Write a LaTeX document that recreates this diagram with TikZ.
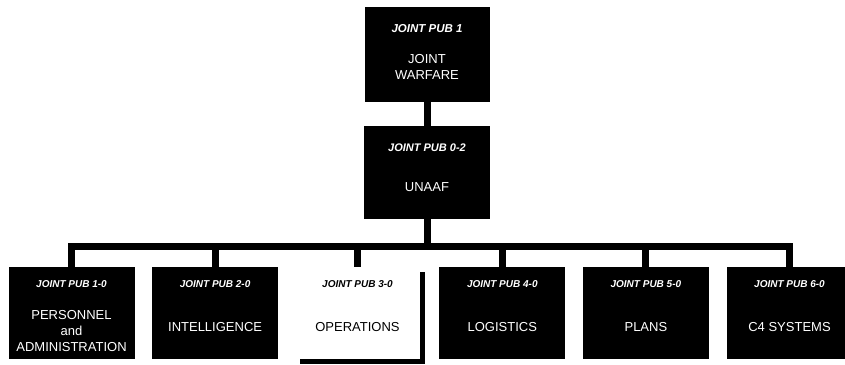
\documentclass[tikz,border=0pt]{standalone}
\usepackage{fontspec}
\setmainfont{Liberation Sans}
\usetikzlibrary{positioning, shadows}

\begin{document}
\begin{tikzpicture}[x=1pt,y=-1pt]
    \tikzset{
        pub box/.style={rectangle, fill=black, minimum width=126pt, minimum height=92pt, inner sep=0pt},
        ops box/.style={pub box, fill=white, drop shadow={shadow xshift=5pt, shadow yshift=-5pt, fill=black, opacity=1}},
        pub title/.style={text=white, font=\fontsize{10}{12}\selectfont\bfseries\itshape},
        pub name/.style={text=white, align=center, font=\fontsize{13}{16}\selectfont},
        link/.style={line width=7pt, draw=black, line join=miter}
      }
\useasboundingbox (0,0) rectangle (845,364);
% top of the chain
\node[pub box, minimum width=125pt, minimum height=95pt] (jp1) at (427,54.5) {};
\node[pub title, font=\fontsize{11.5}{13}\selectfont\bfseries\itshape] (jp1 title) at ([yshift=-22pt]jp1.north) {JOINT PUB 1};
\node[pub name] (jp1 name) at ([yshift=-12.5pt]jp1.center) {JOINT\\WARFARE};
\node[pub box, minimum height=93pt] (jp02) at (427,172.5) {};
\node[pub title, font=\fontsize{11}{13}\selectfont\bfseries\itshape] (jp02 title) at ([yshift=-22pt]jp02.north) {JOINT PUB 0-2};
\node[pub name] (jp02 name) at ([yshift=-14.5pt]jp02.center) {UNAAF};
% the six keystone pubs
\node[pub box] (jp10) at (71.5,313) {};
\node[pub title] (jp10 title) at ([yshift=-17pt]jp10.north) {JOINT PUB 1-0};
\node[pub name] (jp10 name) at ([yshift=-18pt]jp10.center) {PERSONNEL\\and\\ADMINISTRATION};
\node[pub box] (jp20) at (215.1,313) {};
\node[pub title] (jp20 title) at ([yshift=-17pt]jp20.north) {JOINT PUB 2-0};
\node[pub name] (jp20 name) at ([yshift=-14pt]jp20.center) {INTELLIGENCE};
\node[ops box, minimum width=125pt] (jp30) at (357.5,313) {};
\node[pub title, text=black] (jp30 title) at ([yshift=-17pt]jp30.north) {JOINT PUB 3-0};
\node[pub name, text=black] (jp30 name) at ([yshift=-14pt]jp30.center) {OPERATIONS};
\node[pub box] (jp40) at (502.3,313) {};
\node[pub title] (jp40 title) at ([yshift=-17pt]jp40.north) {JOINT PUB 4-0};
\node[pub name] (jp40 name) at ([yshift=-14pt]jp40.center) {LOGISTICS};
\node[pub box] (jp50) at (645.9,313) {};
\node[pub title] (jp50 title) at ([yshift=-17pt]jp50.north) {JOINT PUB 5-0};
\node[pub name] (jp50 name) at ([yshift=-14pt]jp50.center) {PLANS};
\node[pub box] (jp60) at (789.5,313) {};
\node[pub title] (jp60 title) at ([yshift=-17pt]jp60.north) {JOINT PUB 6-0};
\node[pub name] (jp60 name) at ([yshift=-14pt]jp60.center) {C4 SYSTEMS};
% connectors
\coordinate (bus) at (427,246);
\draw[link] (jp1.south) -- (jp02.north);
\draw[link] (jp02.south) -- (bus);
\draw[link] (jp10.north) |- (bus) -| (jp60.north);
\draw[link] (jp20.north) -- (jp20.north |- bus);
\draw[link] (jp30.north) -- (jp30.north |- bus);
\draw[link] (jp40.north) -- (jp40.north |- bus);
\draw[link] (jp50.north) -- (jp50.north |- bus);
\end{tikzpicture}
\end{document}
